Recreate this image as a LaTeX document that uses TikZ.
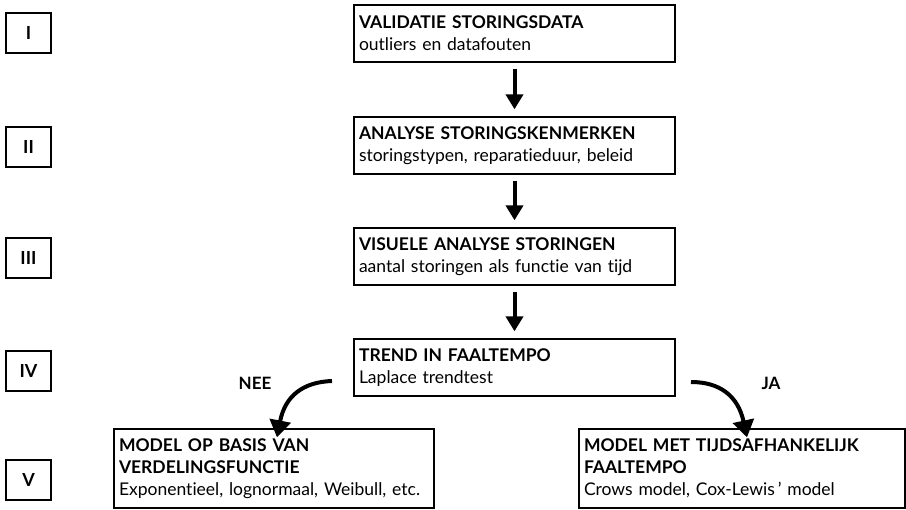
\documentclass[tikz,border=0pt]{standalone}
\usepackage{fontspec}
\setmainfont{Lato}[Ligatures={TeX,NoCommon}]
\usetikzlibrary{positioning,arrows.meta}

\begin{document}
\begin{tikzpicture}[x=1pt,y=-1pt,
  stapbox/.style={draw, line width=1.3pt, align=left, inner xsep=5pt, inner ysep=2pt,
    minimum height=57pt, text width=311pt, font=\fontsize{17.5}{22}\selectfont},
  fasebox/.style={draw, line width=1.3pt, minimum width=45pt, minimum height=40pt,
    inner sep=0pt, font=\fontsize{18}{20}\selectfont\bfseries},
  pijl/.style={line width=4pt, -{Triangle[length=15pt,width=17pt]},
    shorten <=6pt, shorten >=7pt},
  kromme/.style={line width=4pt, -{Triangle[length=17pt,width=21pt]}}]

  \useasboundingbox (0,0) rectangle (906,510);

  % Fases
  \node[fasebox] (f1) at (28.5,33) {I};
  \node[fasebox] (f2) at (28.5,147) {II};
  \node[fasebox] (f3) at (28.5,258) {III};
  \node[fasebox] (f4) at (28.5,371) {IV};
  \node[fasebox] (f5) at (28.5,480) {V};

  % Stappen
  \node[stapbox] (valid) at (514.5,33.5) {\textbf{VALIDATIE STORINGSDATA}\\outliers en datafouten};
  \node[stapbox] (analyse) at (514.5,145.5) {\textbf{ANALYSE STORINGSKENMERKEN}\\storingstypen, reparatieduur, beleid};
  \node[stapbox] (visueel) at (514.5,256.5) {\textbf{VISUELE ANALYSE STORINGEN}\\aantal storingen als functie van tijd};
  \node[stapbox] (trend) at (514.5,367.5) {\textbf{TREND IN FAALTEMPO}\\Laplace trendtest};

  % Modellen
  \node[stapbox, text width=310pt, minimum height=79pt] (verdeling) at (274,468.5)
    {\textbf{MODEL OP BASIS VAN}\\\textbf{VERDELINGSFUNCTIE}\\Exponentieel, lognormaal, Weibull, etc.};
  \node[stapbox, text width=316pt, minimum height=79pt] (tijdsafh) at (742,468.5)
    {\textbf{MODEL MET TIJDSAFHANKELIJK}\\\textbf{FAALTEMPO}\\Crows model, Cox-Lewis\,' model};

  % Pijlen
  \draw[pijl] (valid) -- (analyse);
  \draw[pijl] (analyse) -- (visueel);
  \draw[pijl] (visueel) -- (trend);

  \coordinate (neeS) at (332,381);
  \coordinate (jaS) at (691,382);
  \draw[kromme] (neeS) .. controls (303,382) and (285,396) .. ([xshift=3pt,yshift=-9pt]verdeling.north);
  \draw[kromme] (jaS) .. controls (720,382) and (738,396) .. ([xshift=5pt,yshift=-9pt]tijdsafh.north);
  \node[font=\fontsize{17}{20}\selectfont\bfseries] (nee) at (255,383) {NEE};
  \node[font=\fontsize{17}{20}\selectfont\bfseries] (ja) at (771,383) {JA};

\end{tikzpicture}
\end{document}
